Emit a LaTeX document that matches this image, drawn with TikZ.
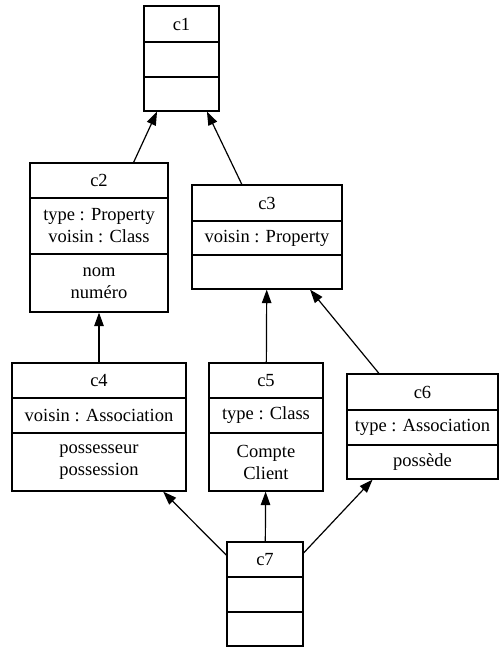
\documentclass[tikz,border=0pt]{standalone}
\usepackage{fontspec}
\setmainfont{Liberation Serif}
\usetikzlibrary{arrows.meta}
\begin{document}
\begin{tikzpicture}[x=1pt,y=-1pt,
  cls/.style={draw,rectangle,inner sep=0pt,line width=1.2pt},
  sep/.style={line width=1.2pt},
  txt/.style={inner sep=0pt,align=center,font=\fontsize{18.5}{22}\selectfont},
  inh/.style={line width=1.2pt,-{Triangle[length=13.5pt,width=9.5pt]}}]
\useasboundingbox (0,0) rectangle (499,647);
% classes
\node[cls,minimum width=75pt,minimum height=105pt] (c1) at (181.5,58.5) {};
\node[cls,minimum width=138pt,minimum height=149pt] (c2) at (99,237.5) {};
\node[cls,minimum width=150pt,minimum height=104pt] (c3) at (267,237) {};
\node[cls,minimum width=174pt,minimum height=128pt] (c4) at (99,427) {};
\node[cls,minimum width=114pt,minimum height=128pt] (c5) at (266,427) {};
\node[cls,minimum width=151pt,minimum height=105pt] (c6) at (422.5,426.5) {};
\node[cls,minimum width=76pt,minimum height=104pt] (c7) at (265,594) {};
% compartments
\draw[sep] (144,42) -- (219,42) (144,77) -- (219,77);
\draw[sep] (30,198) -- (168,198) (30,254) -- (168,254);
\draw[sep] (192,221) -- (342,221) (192,255) -- (342,255);
\draw[sep] (12,398) -- (186,398) (12,433) -- (186,433);
\draw[sep] (209,398) -- (323,398) (209,433) -- (323,433);
\draw[sep] (347,410) -- (498,410) (347,445) -- (498,445);
\draw[sep] (227,577) -- (303,577) (227,612) -- (303,612);
% texts
\node[txt] (t1) at (181.5,24) {c1};
\node[txt] (t2) at (99,180.5) {c2};
\node[txt] (a2) at (99,226) {type : Property\\voisin : Class};
\node[txt] (o2) at (99,283) {nom\\numéro};
\node[txt] (t3) at (267,203) {c3};
\node[txt] (a3) at (267,238) {voisin : Property};
\node[txt] (t4) at (99,380.5) {c4};
\node[txt] (a4) at (99,415.5) {voisin : Association};
\node[txt] (o4) at (99,462) {possesseur\\possession};
\node[txt] (t5) at (266,380.5) {c5};
\node[txt] (a5) at (266,415.5) {type : Class};
\node[txt] (o5) at (266,462) {Compte\\Client};
\node[txt] (t6) at (422.5,392) {c6};
\node[txt] (a6) at (422.5,427.5) {type : Association};
\node[txt] (o6) at (422.5,462) {possède};
\node[txt] (t7) at (265,559.5) {c7};
% inheritance
\draw[inh] (c2) -- (c1);
\draw[inh] (c3) -- (c1);
\draw[inh] (c4) -- (c2);
\draw[inh] (c5) -- (c3);
\draw[inh] (c6) -- (c3);
\draw[inh] (c7) -- (c4);
\draw[inh] (c7) -- (c5);
\draw[inh] (c7) -- (c6);
\end{tikzpicture}
\end{document}
